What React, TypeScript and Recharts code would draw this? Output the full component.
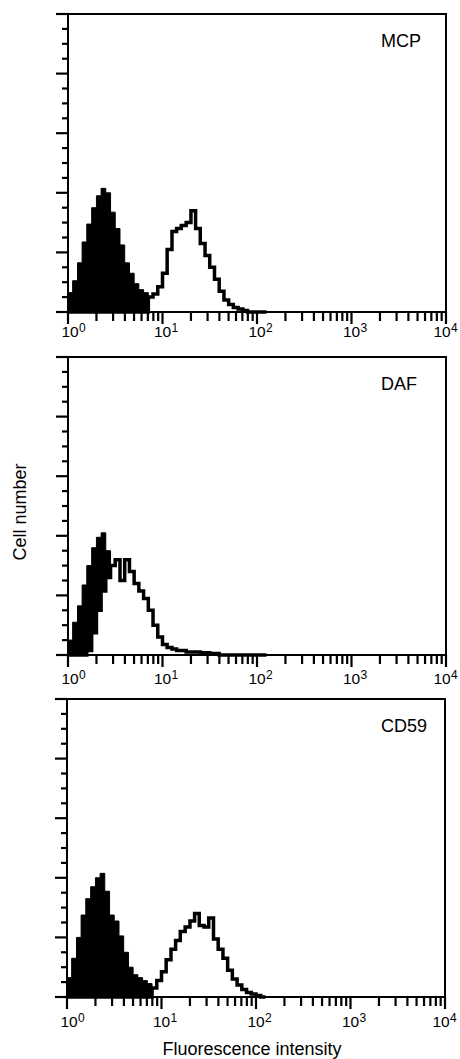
import React from "react"
import { ComposedChart, Area, XAxis, YAxis, ReferenceArea } from "recharts"

// fluorescence channels, 1/20 decade apart
const intensity = [
  1.0, 1.12, 1.26, 1.41, 1.58, 1.78, 2.0, 2.24, 2.51, 2.82,
  3.16, 3.55, 3.98, 4.47, 5.01, 5.62, 6.31, 7.08, 7.94, 8.91,
  10.0, 11.2, 12.6, 14.1, 15.8, 17.8, 20.0, 22.4, 25.1, 28.2,
  31.6, 35.5, 39.8, 44.7, 50.1, 56.2, 63.1, 70.8, 79.4, 89.1,
  100, 112, 126,
]

const mcpControl = [
  13, 21, 33, 47, 59, 70, 78, 83, 80, 67,
  56, 45, 33, 26, 19, 15, 13, 10, 7, 4,
  2, 1, 0, 0, 0, 0, 0, 0, 0, 0,
  0, 0, 0, 0, 0, 0, 0, 0, 0, 0,
  0, 0, 0,
]
const mcpStained = [
  0, 0, 0, 0, 0, 0, 0, 0, 0, 0,
  0, 0, 0, 0, 0, 0, 0, 10, 12, 17,
  26, 42, 54, 56, 58, 60, 68, 56, 46, 38,
  30, 22, 14, 8, 5, 3, 2, 1, 0, 0,
  0, 0, 0,
]

const dafControl = [
  10, 22, 33, 47, 60, 72, 79, 82, 70, 55,
  45, 35, 25, 18, 12, 8, 6, 4, 3, 2,
  1, 0, 0, 0, 0, 0, 0, 0, 0, 0,
  0, 0, 0, 0, 0, 0, 0, 0, 0, 0,
  0, 0, 0,
]
const dafStained = [
  0, 0, 0, 0, 3, 15, 30, 43, 52, 60,
  64, 50, 64, 56, 48, 43, 38, 30, 20, 12,
  7, 5, 4, 3, 3, 2, 2, 2, 1.5, 1.5,
  1, 1, 0, 0, 0, 0, 0, 0, 0, 0,
  0, 0, 0,
]

const cd59Control = [
  13, 26, 40, 55, 66, 74, 80, 83, 71, 55,
  51, 41, 30, 20, 15, 13, 11, 9, 6, 3,
  1, 0, 0, 0, 0, 0, 0, 0, 0, 0,
  0, 0, 0, 0, 0, 0, 0, 0, 0, 0,
  0, 0, 0,
]
const cd59Stained = [
  0, 0, 0, 0, 0, 0, 0, 0, 0, 0,
  0, 0, 0, 0, 0, 0, 0, 0, 6, 11,
  17, 25, 32, 38, 44, 47, 51, 56, 48, 47,
  53, 39, 32, 26, 18, 12, 8, 5, 3, 2,
  1, 0, 0,
]

const xTicks = [
  1, 2, 3, 4, 5, 6, 7, 8, 9,
  10, 20, 30, 40, 50, 60, 70, 80, 90,
  100, 200, 300, 400, 500, 600, 700, 800, 900,
  1000, 2000, 3000, 4000, 5000, 6000, 7000, 8000, 9000,
  10000,
]
const decadeExponent: Record<number, string> = { 1: "0", 10: "1", 100: "2", 1000: "3", 10000: "4" }

const yTicks = [0, 10, 20, 30, 40, 50, 60, 70, 80, 90, 100, 110, 120, 130, 140, 150, 160, 170, 180, 190, 200]
const majorYTicks = [0, 40, 80, 120, 160, 200]

const FONT = "'Liberation Sans', Arial, Helvetica, sans-serif"

// the end labels are nudged inwards a little, as in the printed figure
const labelShift: Record<number, number> = { 1: 2, 10000: -4 }

const XTick = (props: any) => {
  const { x, y, payload, labelDy } = props
  const exp = decadeExponent[payload.value]
  const major = exp !== undefined
  const lx = x + (labelShift[payload.value] ?? 0)
  return (
    <g>
      <line x1={x} x2={x} y1={y} y2={y + (major ? 12 : 9)} stroke="#000" strokeWidth={2.2} />
      {major && (
        <g fontFamily={FONT} fill="#000">
          <text x={lx} y={y + labelDy} textAnchor="middle" fontSize={15.5}>
            10
          </text>
          <text x={lx + 9} y={y + labelDy - 5} fontSize={12}>
            {exp}
          </text>
        </g>
      )}
    </g>
  )
}

const YTick = (props: any) => {
  const { x, y, payload } = props
  const major = majorYTicks.includes(payload.value)
  return <line x1={x} x2={x - (major ? 12 : 6)} y1={y} y2={y} stroke="#000" strokeWidth={2.2} />
}

interface PanelProps {
  name: string
  control: number[]
  stained: number[]
  top: number
  height: number
  margin: { top: number; right: number; bottom: number; left: number }
  labelDy: number
}

function Panel({ name, control, stained, top, height, margin, labelDy }: PanelProps) {
  const data = intensity.map((x, i) => ({ x, control: control[i], stained: stained[i] }))
  // axes are 1px thick boxes, so take that off the margins
  const chartMargin = { ...margin, left: margin.left - 1, bottom: margin.bottom - 1 }
  return (
    <div style={{ position: "absolute", left: 0, top, width: 460, height }}>
      <ComposedChart width={460} height={height} data={data} margin={chartMargin}>
        <XAxis
          dataKey="x"
          type="number"
          scale="log"
          domain={[1, 10000]}
          ticks={xTicks}
          interval={0}
          height={1}
          tickSize={0}
          tickMargin={0}
          tickLine={false}
          axisLine={{ stroke: "#000", strokeWidth: 2 }}
          tick={<XTick labelDy={labelDy} />}
          allowDataOverflow
        />
        <YAxis
          type="number"
          domain={[0, 200]}
          ticks={yTicks}
          interval={0}
          width={1}
          tickSize={0}
          tickMargin={0}
          tickLine={false}
          axisLine={{ stroke: "#000", strokeWidth: 2 }}
          tick={<YTick />}
        />
        <Area
          dataKey="control"
          type="stepAfter"
          stroke="#000"
          strokeWidth={1}
          fill="#000"
          fillOpacity={1}
          dot={false}
          activeDot={false}
          isAnimationActive={false}
        />
        <Area
          dataKey="stained"
          type="stepAfter"
          stroke="#000"
          strokeWidth={3.5}
          fill="#fff"
          fillOpacity={1}
          dot={false}
          activeDot={false}
          isAnimationActive={false}
        />
        <ReferenceArea x1={1} x2={10000} y1={0} y2={200} fill="none" stroke="#000" strokeWidth={2} />
      </ComposedChart>
      <div
        style={{
          position: "absolute",
          left: 381,
          top: margin.top + 33 - 15,
          fontFamily: FONT,
          fontSize: 18,
          lineHeight: "18px",
          color: "#000",
        }}
      >
        {name}
      </div>
    </div>
  )
}

export default function App() {
  return (
    <div style={{ position: "absolute", left: 0, top: 0, width: 460, height: 1059, background: "#fff" }}>
      <Panel
        name="MCP"
        control={mcpControl}
        stained={mcpStained}
        top={0}
        height={345}
        margin={{ top: 14, right: 14, bottom: 33, left: 68 }}
        labelDy={25}
      />
      <Panel
        name="DAF"
        control={dafControl}
        stained={dafStained}
        top={345}
        height={345}
        margin={{ top: 12, right: 14, bottom: 35, left: 68 }}
        labelDy={29}
      />
      <Panel
        name="CD59"
        control={cd59Control}
        stained={cd59Stained}
        top={690}
        height={369}
        margin={{ top: 9, right: 15, bottom: 62, left: 67 }}
        labelDy={30}
      />
      <div
        style={{
          position: "absolute",
          left: 20,
          top: 512,
          transform: "translate(-50%, -50%) rotate(-90deg)",
          whiteSpace: "nowrap",
          fontFamily: FONT,
          fontSize: 18,
          lineHeight: "18px",
          color: "#000",
        }}
      >
        Cell number
      </div>
      <div
        style={{
          position: "absolute",
          left: 252,
          top: 1040,
          transform: "translateX(-50%)",
          whiteSpace: "nowrap",
          fontFamily: FONT,
          fontSize: 18,
          lineHeight: "18px",
          color: "#000",
        }}
      >
        Fluorescence intensity
      </div>
    </div>
  )
}
